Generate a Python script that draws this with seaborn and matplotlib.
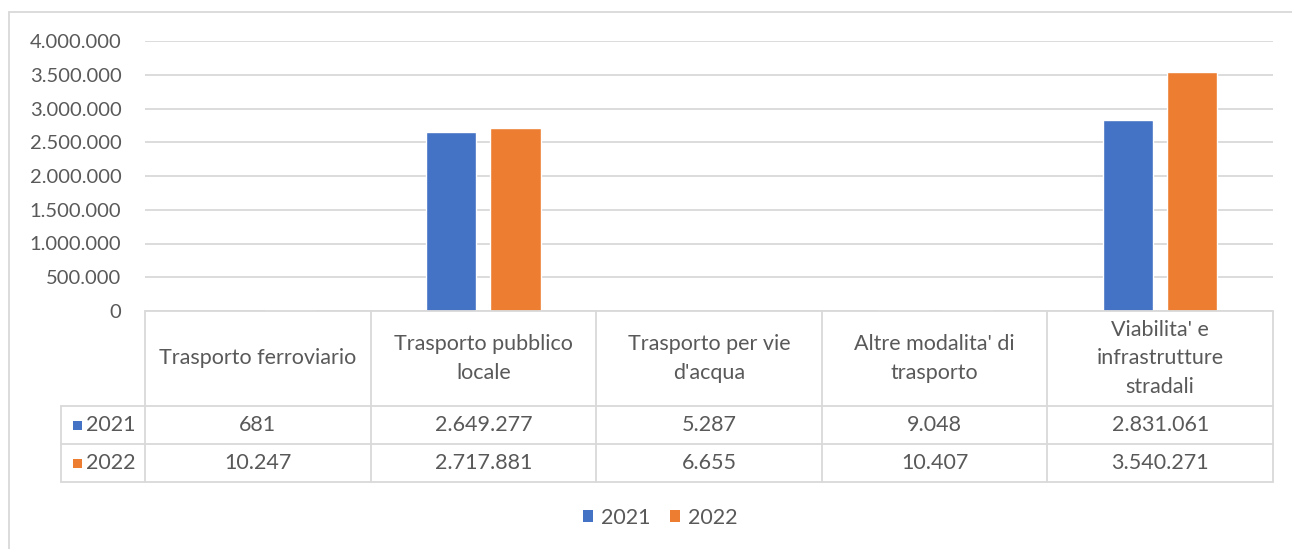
import matplotlib
matplotlib.use("Agg")
import matplotlib.pyplot as plt
import matplotlib.transforms as mtransforms
from matplotlib.lines import Line2D
from matplotlib.patches import Rectangle, Patch
import seaborn as sns
import pandas as pd

categories = ["Trasporto ferroviario", "Trasporto pubblico\nlocale", "Trasporto per vie\nd'acqua",
              "Altre modalita' di\ntrasporto", "Viabilita' e\ninfrastrutture\nstradali"]
years = ["2021", "2022"]
values_2021 = [681, 2649277, 5287, 9048, 2831061]
values_2022 = [10247, 2717881, 6655, 10407, 3540271]
colors = ["#4472C4", "#ED7D31"]
yticks = [0, 500000, 1000000, 1500000, 2000000, 2500000, 3000000, 3500000, 4000000]

def fmt(v):
    return f"{v:,}".replace(",", ".")

sns.set_theme(style="white")
plt.rcParams['font.family'] = ['Lato', 'DejaVu Sans']
text_color = "#595959"
grid_color = "#D9D9D9"
FS = 15.5

W, H = 1292, 549
fig = plt.figure(figsize=(W / 100, H / 100), dpi=100)
left, right, top, bottom = 145, 1273, 41, 311
ax = fig.add_axes([left / W, 1 - bottom / H, (right - left) / W, (bottom - top) / H])

df = pd.DataFrame({
    "cat": categories * 2,
    "year": [years[0]] * 5 + [years[1]] * 5,
    "value": values_2021 + values_2022,
})
sns.barplot(data=df, x="cat", y="value", hue="year", palette=colors, order=categories,
            width=0.57, gap=0.22, ax=ax, legend=False, saturation=1, errorbar=None)

ax.set_xlim(-0.5, len(categories) - 0.5)
ax.set_ylim(0, 4000000)
ax.set_yticks(yticks)
ax.set_yticklabels([fmt(v) for v in yticks], fontsize=14.5, color=text_color)
ax.tick_params(axis="y", length=0, pad=17)
ax.set_xticks([])
ax.set_xlabel("")
ax.set_ylabel("")
for s in ax.spines.values():
    s.set_visible(False)
ax.yaxis.grid(True, color=grid_color, linewidth=1.3)
ax.set_axisbelow(True)

# Data table below the axes
trans = mtransforms.blended_transform_factory(ax.transData, ax.transAxes)
ph = bottom - top
h_row = (406 - 311) / ph
r1 = (444 - 406) / ph
r2 = (482 - 444) / ph
y0 = 0
y1 = -h_row
y2 = y1 - r1
y3 = y2 - r2
lab_left = -0.5 - (145 - 61) / ((right - left) / len(categories))
n = len(categories)
lw = 1.3
kw = dict(color=grid_color, linewidth=lw, transform=trans, clip_on=False)
ax.add_line(Line2D([-0.5, n - 0.5], [y0, y0], **kw))
ax.add_line(Line2D([lab_left, n - 0.5], [y1, y1], **kw))
ax.add_line(Line2D([lab_left, n - 0.5], [y2, y2], **kw))
ax.add_line(Line2D([lab_left, n - 0.5], [y3, y3], **kw))
for i in range(n + 1):
    ax.add_line(Line2D([i - 0.5, i - 0.5], [y0, y3], **kw))
ax.add_line(Line2D([lab_left, lab_left], [y1, y3], **kw))

for i, c in enumerate(categories):
    ax.text(i, (y0 + y1) / 2, c, transform=trans, ha="center", va="center",
            fontsize=FS, color=text_color, linespacing=1.55)
    ax.text(i, (y1 + y2) / 2, fmt(values_2021[i]), transform=trans, ha="center", va="center",
            fontsize=FS, color=text_color)
    ax.text(i, (y2 + y3) / 2, fmt(values_2022[i]), transform=trans, ha="center", va="center",
            fontsize=FS, color=text_color)

for yr, col, (ya, yb) in zip(years, colors, [(y1, y2), (y2, y3)]):
    ym = (ya + yb) / 2
    fig_y = 1 - (bottom - ym * ph) / H
    fig.patches.append(Rectangle((73 / W, fig_y - 4.5 / H), 9 / W, 9 / H,
                                 facecolor=col, edgecolor="none", transform=fig.transFigure))
    fig.text(86 / W, fig_y, yr, ha="left", va="center", fontsize=FS, color=text_color)

handles = [Patch(facecolor=c, edgecolor="none", label=y) for c, y in zip(colors, years)]
fig.legend(handles=handles, loc="center", bbox_to_anchor=(660 / W, 1 - 518 / H), ncol=2,
           frameon=False, fontsize=FS, handlelength=0.5, handleheight=0.5,
           handletextpad=0.35, columnspacing=0.9, labelcolor=text_color)

fig.add_artist(Line2D([9 / W, 9 / W], [0, 1 - 12 / H], color=grid_color, linewidth=1.3,
                      transform=fig.transFigure))
fig.add_artist(Line2D([9 / W, 1], [1 - 12 / H, 1 - 12 / H], color=grid_color, linewidth=1.3,
                      transform=fig.transFigure))

fig.savefig("out.png", dpi=100, facecolor="white")
